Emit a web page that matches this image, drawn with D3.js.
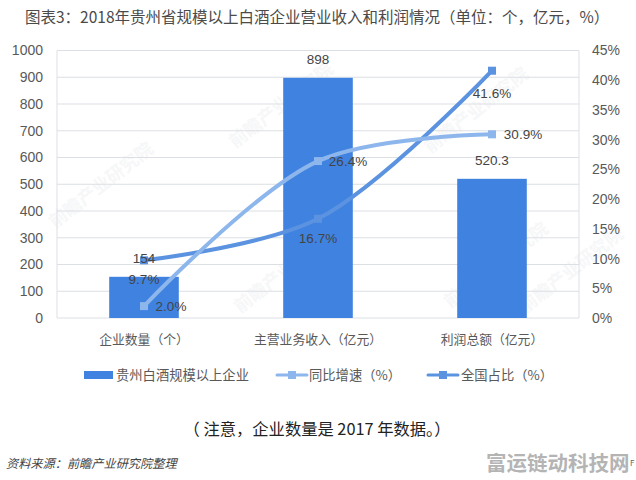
<!DOCTYPE html>
<html>
<head>
<meta charset="utf-8">
<script src="https://cdnjs.cloudflare.com/ajax/libs/d3/7.8.5/d3.min.js"></script>
<style>
    html, body { margin: 0; padding: 0; background: #fff; }
    text { font-family: "Noto Sans CJK SC", "Noto Sans", sans-serif; }
</style>
</head>
<body>
<svg id="chart" width="636" height="480"></svg>
<script>
var categories = ["企业数量（个）", "主营业务收入（亿元）", "利润总额（亿元）"];
var barValues = [154, 898, 520.3];
var growthValues = [2.0, 26.4, 30.9];
var shareValues = [9.7, 16.7, 41.6];
var barTicks = [0, 100, 200, 300, 400, 500, 600, 700, 800, 900, 1000];
var pctTicks = [0, 5, 10, 15, 20, 25, 30, 35, 40, 45];
var legendLabels = ["贵州白酒规模以上企业", "同比增速（%）", "全国占比（%）"];
var titleText = "图表3：2018年贵州省规模以上白酒企业营业收入和利润情况（单位：个，亿元，%）";
var noteText = "（ 注意，企业数量是 2017 年数据。）";
var sourceText = "资料来源：前瞻产业研究院整理";
var markText = "富运链动科技网";

var barColor = "#3f82e0", growthColor = "#8db6ec", shareColor = "#5b93e0";
var textColor = "#595959", gridColor = "#dcdfe4";

var svg = d3.select("#chart");
var plotLeft = 57, plotRight = 579, plotTop = 50.5, plotBottom = 318;

var x = d3.scaleBand().domain(categories).range([plotLeft, plotRight]);
var y = d3.scaleLinear().domain([0, 1000]).range([plotBottom, plotTop]);
var y2 = d3.scaleLinear().domain([0, 45]).range([plotBottom, plotTop]);
var barWidth = x.bandwidth() * 0.4;
var mid = function (i) { return x(categories[i]) + x.bandwidth() / 2; };

// faint watermarks behind the chart
var marks = [[105, 190], [285, 110], [480, 115], [290, 275], [500, 270], [575, 275]];
svg.selectAll(".wm").data(marks).enter().append("text")
    .attr("class", "wm")
    .attr("transform", function (d) { return "translate(" + d[0] + "," + d[1] + ") rotate(-38)"; })
    .attr("text-anchor", "middle")
    .attr("font-size", 18)
    .attr("font-weight", 700)
    .attr("fill", "#f6f7f8")
    .text("前瞻产业研究院");

svg.append("text").attr("x", 25).attr("y", 23)
    .attr("font-size", 15.5).attr("fill", "#4a4a4a").text(titleText);

// gridlines + frame
svg.selectAll(".grid").data(barTicks).enter().append("line")
    .attr("class", "grid")
    .attr("x1", plotLeft).attr("x2", plotRight)
    .attr("y1", function (d) { return y(d); }).attr("y2", function (d) { return y(d); })
    .attr("stroke", gridColor).attr("stroke-width", 1);
svg.selectAll(".side").data([plotLeft, plotRight]).enter().append("line")
    .attr("class", "side")
    .attr("x1", function (d) { return d; }).attr("x2", function (d) { return d; })
    .attr("y1", plotTop).attr("y2", plotBottom)
    .attr("stroke", gridColor).attr("stroke-width", 1);

// axes
var yAxis = d3.axisLeft(y).tickValues(barTicks).tickSize(0).tickPadding(14)
    .tickFormat(function (d) { return d; });
var gy = svg.append("g").attr("transform", "translate(" + plotLeft + ",0)").call(yAxis);
var y2Axis = d3.axisRight(y2).tickValues(pctTicks).tickSize(0).tickPadding(13)
    .tickFormat(function (d) { return d + "%"; });
var gy2 = svg.append("g").attr("transform", "translate(" + plotRight + ",0)").call(y2Axis);
var xAxis = d3.axisBottom(x).tickSize(0).tickPadding(17);
var gx = svg.append("g").attr("transform", "translate(0," + plotBottom + ")").call(xAxis);
[gy, gy2, gx].forEach(function (g) {
    g.select(".domain").remove();
    g.selectAll("text").attr("font-size", 12.8).attr("fill", textColor)
        .style("font-family", '"Noto Sans CJK SC", sans-serif');
});
gy.selectAll("text").attr("font-size", 14).style("font-family", '"Liberation Sans", sans-serif');
gy2.selectAll("text").attr("font-size", 14).style("font-family", '"Liberation Sans", sans-serif');

// bars
svg.selectAll(".bar").data(barValues).enter().append("rect")
    .attr("class", "bar")
    .attr("x", function (d, i) { return mid(i) - barWidth / 2; })
    .attr("width", barWidth)
    .attr("y", function (d) { return y(d); })
    .attr("height", function (d) { return plotBottom - y(d); })
    .attr("fill", barColor);

// lines
var line = d3.line()
    .x(function (d, i) { return mid(i); })
    .y(function (d) { return y2(d); })
    .curve(d3.curveCatmullRom.alpha(0.5));

function drawSeries(values, color) {
    svg.append("path").datum(values)
        .attr("d", line)
        .attr("fill", "none")
        .attr("stroke", color)
        .attr("stroke-width", 4)
        .attr("stroke-linecap", "round");
    svg.selectAll(null).data(values).enter().append("rect")
        .attr("x", function (d, i) { return mid(i) - 4; })
        .attr("y", function (d) { return y2(d) - 4; })
        .attr("width", 8).attr("height", 8)
        .attr("fill", color);
}
drawSeries(shareValues, shareColor);
drawSeries(growthValues, growthColor);

// data labels
function labelFont(sel) {
    sel.attr("font-size", 13.5).attr("fill", "#444")
        .style("font-family", '"Liberation Sans", sans-serif')
        .attr("text-anchor", "middle");
}
var barDy = [-14, -14, -14];
svg.selectAll(".barlabel").data(barValues).enter().append("text")
    .attr("class", "barlabel")
    .attr("x", function (d, i) { return mid(i); })
    .attr("y", function (d, i) { return y(d) + barDy[i]; })
    .text(function (d) { return d; })
    .call(labelFont);
var growthDx = [27, 30, 31], growthDy = [5, 5, 5];
svg.selectAll(".growlabel").data(growthValues).enter().append("text")
    .attr("class", "growlabel")
    .attr("x", function (d, i) { return mid(i) + growthDx[i]; })
    .attr("y", function (d, i) { return y2(d) + growthDy[i]; })
    .text(function (d) { return d.toFixed(1) + "%"; })
    .call(labelFont);
var shareDx = [0, 0, 0], shareDy = [24, 24, 27];
svg.selectAll(".sharelabel").data(shareValues).enter().append("text")
    .attr("class", "sharelabel")
    .attr("x", function (d, i) { return mid(i) + shareDx[i]; })
    .attr("y", function (d, i) { return y2(d) + shareDy[i]; })
    .text(function (d) { return d.toFixed(1) + "%"; })
    .call(labelFont);

// legend
var legendY = 375;
svg.append("rect").attr("x", 84).attr("y", legendY - 4).attr("width", 29).attr("height", 8).attr("fill", barColor);
var legendX = [116, 309, 461];
svg.selectAll(".lg").data(legendLabels).enter().append("text")
    .attr("class", "lg")
    .attr("x", function (d, i) { return legendX[i]; })
    .attr("y", legendY + 4.5)
    .attr("font-size", 13.3).attr("fill", textColor)
    .text(function (d) { return d; });
[[277, growthColor], [428, shareColor]].forEach(function (d) {
    svg.append("line").attr("x1", d[0]).attr("x2", d[0] + 30)
        .attr("y1", legendY).attr("y2", legendY)
        .attr("stroke", d[1]).attr("stroke-width", 3).attr("stroke-linecap", "round");
    svg.append("rect").attr("x", d[0] + 11).attr("y", legendY - 4)
        .attr("width", 8).attr("height", 8).attr("fill", d[1]);
});

// footer text
svg.append("text").attr("x", 317).attr("y", 435).attr("text-anchor", "middle")
    .attr("font-size", 16.3).attr("fill", "#222").text(noteText);
svg.append("text").attr("x", 6).attr("y", 468)
    .attr("font-size", 12.2).attr("font-style", "italic").attr("fill", "#444").text(sourceText);
svg.append("text").attr("x", 486).attr("y", 471)
    .attr("font-size", 20.5).attr("font-weight", 700).attr("fill", "#b4b4b4").text(markText);
svg.append("text").attr("x", 630).attr("y", 466)
    .attr("font-size", 8).attr("fill", "#666").text("F");
</script>
</body>
</html>
